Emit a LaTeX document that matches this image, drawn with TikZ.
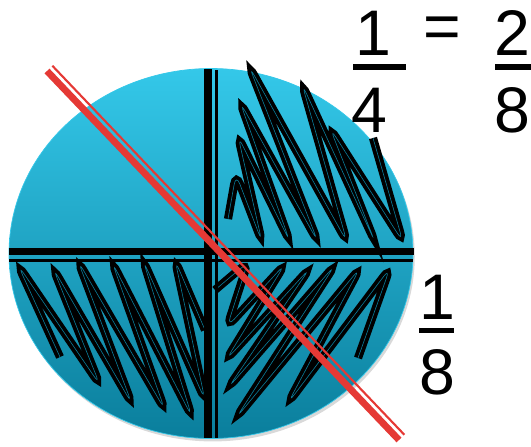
\documentclass[tikz,border=0pt]{standalone}
\usepackage{fontspec}
\setmainfont{Liberation Sans}
\usetikzlibrary{shadows}
\definecolor{kreish}{HTML}{34C8E9}
\definecolor{kreism}{HTML}{03A8CB}
\definecolor{kreisd}{HTML}{0A7E9C}
\definecolor{rot}{HTML}{E53935}
\tikzset{
  kreis/.style={top color=kreish,middle color=kreism,bottom color=kreisd,draw=kreish,line width=0.6pt},
  kritzel/.style={draw=kreisd,line width=0.5pt,rounded corners=9pt,line cap=round,
    preaction={draw=black,line width=7pt}},
  teil/.style={black,line width=6.8pt},
  teilf/.style={black,line width=2.4pt},
  strich/.style={rot,line width=5.8pt},
  strichf/.style={rot,line width=1.8pt},
  ziffer/.style={inner sep=0pt,font=\fontsize{55}{60}\selectfont},
  bruch/.style={black,line width=5pt},
}
\begin{document}
\begin{tikzpicture}[x=0.03cm,y=-0.03cm]
  \useasboundingbox (0,0) rectangle (531,446);
  \path[kreis,drop shadow={shadow xshift=1.5pt,shadow yshift=-2.5pt,opacity=0.3}]
    (211,253.5) ellipse [x radius=202,y radius=185];
  % gekritzel
  \draw[kritzel] (228,219)--(236,174)--(262,242)--(238,136)--(290,242)--(240,102)--(318,242)
    --(249,66)--(347,242)--(302,84)--(375,242)--(330,128)--(403,242)--(373,138);
  \draw[kritzel] (60,357)--(18,265)--(100,385)--(53,268)--(132,404)--(78,261)--(165,410)
    --(112,262)--(192,417)--(143,260)--(205,400)--(175,260)--(205,330);
  \draw[kritzel] (215,290)--(248,262)--(227,327)--(285,264)--(226,360)--(310,268)--(228,388)
    --(335,265)--(236,418)--(360,268)--(288,403)--(390,268)--(358,358);
  % teilung
  \draw[teil] (208,69)--(208,438);
  \draw[teilf] (216.5,70)--(216.5,438);
  \draw[teil] (9,251.5)--(414,251.5);
  \draw[teilf] (9,260.5)--(413,260.5);
  % durchgestrichen
  \draw[strich] (47,71)--(399,440);
  \draw[strichf] (52.4,65.8)--(404.4,434.8);
  % brueche
  \node[ziffer] (z1) at (373,33) {1};
  \node[ziffer] (n4) at (369,110) {4};
  \node[ziffer] (gl) at (442,33) {=};
  \node[ziffer] (z2) at (512,33) {2};
  \node[ziffer] (n8) at (512,110) {8};
  \node[ziffer] (z1b) at (437,297) {1};
  \node[ziffer] (n8b) at (437,372) {8};
  \draw[bruch] (353,67)--(406,67);
  \draw[bruch] (495,67)--(531,67);
  \draw[bruch] (419,330.5)--(454,330.5);
\end{tikzpicture}
\end{document}
